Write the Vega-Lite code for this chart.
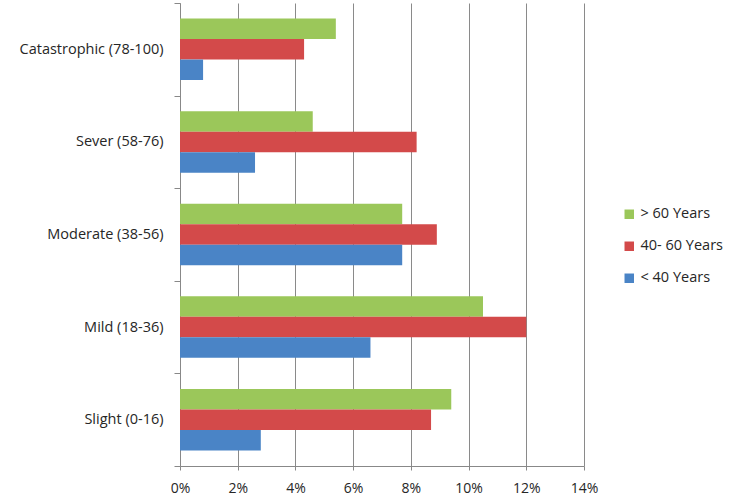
{
  "$schema": "https://vega.github.io/schema/vega-lite/v6.json",
  "width": 404,
  "height": 463,
  "autosize": "none",
  "padding": {"left": 180, "top": 3, "right": 154, "bottom": 37},
  "background": "white",
  "config": {
    "view": {"stroke": null},
    "font": "Open Sans"
  },
  "data": {
    "values": [
      {"severity": "Catastrophic (78-100)", "age": "> 60 Years", "pct": 5.4},
      {"severity": "Catastrophic (78-100)", "age": "40- 60 Years", "pct": 4.3},
      {"severity": "Catastrophic (78-100)", "age": "< 40 Years", "pct": 0.8},
      {"severity": "Sever (58-76)", "age": "> 60 Years", "pct": 4.6},
      {"severity": "Sever (58-76)", "age": "40- 60 Years", "pct": 8.2},
      {"severity": "Sever (58-76)", "age": "< 40 Years", "pct": 2.6},
      {"severity": "Moderate (38-56)", "age": "> 60 Years", "pct": 7.7},
      {"severity": "Moderate (38-56)", "age": "40- 60 Years", "pct": 8.9},
      {"severity": "Moderate (38-56)", "age": "< 40 Years", "pct": 7.7},
      {"severity": "Mild (18-36)", "age": "> 60 Years", "pct": 10.5},
      {"severity": "Mild (18-36)", "age": "40- 60 Years", "pct": 12.0},
      {"severity": "Mild (18-36)", "age": "< 40 Years", "pct": 6.6},
      {"severity": "Slight (0-16)", "age": "> 60 Years", "pct": 9.4},
      {"severity": "Slight (0-16)", "age": "40- 60 Years", "pct": 8.7},
      {"severity": "Slight (0-16)", "age": "< 40 Years", "pct": 2.8}
    ]
  },
  "mark": {"type": "bar"},
  "encoding": {
    "y": {
      "field": "severity",
      "type": "nominal",
      "sort": ["Catastrophic (78-100)", "Sever (58-76)", "Moderate (38-56)", "Mild (18-36)", "Slight (0-16)"],
      "scale": {"paddingInner": 0, "paddingOuter": 0},
      "axis": {
        "title": null,
        "tickBand": "extent",
        "tickSize": 6,
        "labelPadding": 11,
        "labelFontSize": 14.5,
        "labelColor": "#262626",
        "domainColor": "#888888",
        "tickColor": "#888888",
        "grid": false
      }
    },
    "yOffset": {
      "field": "age",
      "type": "nominal",
      "sort": ["> 60 Years", "40- 60 Years", "< 40 Years"],
      "scale": {"paddingInner": 0, "paddingOuter": 0.76}
    },
    "x": {
      "field": "pct",
      "type": "quantitative",
      "scale": {"domain": [0, 14], "nice": false},
      "axis": {
        "title": null,
        "values": [0, 2, 4, 6, 8, 10, 12, 14],
        "labelExpr": "datum.value + '%'",
        "labelFlush": false,
        "tickSize": 4,
        "labelPadding": 11,
        "labelFontSize": 14,
        "labelColor": "#262626",
        "domainColor": "#888888",
        "tickColor": "#888888",
        "grid": true,
        "gridColor": "#8a8a8a",
        "gridWidth": 1
      }
    },
    "color": {
      "field": "age",
      "type": "nominal",
      "sort": ["> 60 Years", "40- 60 Years", "< 40 Years"],
      "scale": {
        "domain": ["> 60 Years", "40- 60 Years", "< 40 Years"],
        "range": ["#9BC75A", "#D34A4A", "#4A84C6"]
      },
      "legend": {
        "title": null,
        "orient": "none",
        "legendX": 442,
        "legendY": 204,
        "symbolType": "square",
        "symbolSize": 90,
        "symbolStrokeWidth": 0,
        "labelFontSize": 14.5,
        "labelColor": "#262626",
        "rowPadding": 17,
        "labelOffset": 4
      }
    }
  }
}
